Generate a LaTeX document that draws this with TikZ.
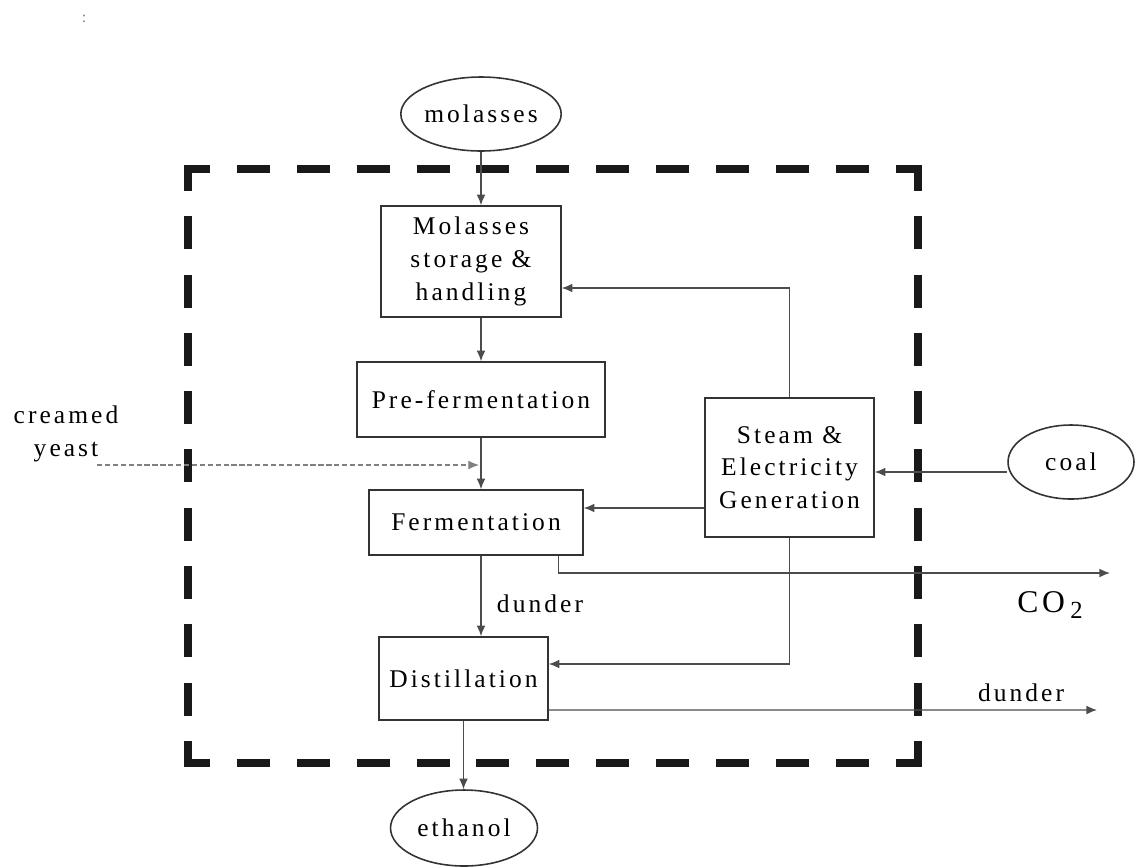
\documentclass[tikz,border=0pt]{standalone}
\usepackage{fontspec}
\setmainfont{Liberation Serif}[LetterSpace=12]
\usetikzlibrary{shapes.geometric,arrows.meta}
\newcommand\fsz{\fontsize{14.5}{18.7}\selectfont}
\begin{document}
\begin{tikzpicture}[x=0.02cm,y=-0.02cm,
  box/.style={draw=black!80,line width=0.9pt,rectangle,align=center,inner sep=0pt,font=\fsz},
  oval/.style={draw=black!80,line width=0.9pt,ellipse,inner sep=0pt,font=\fsz},
  conn/.style={draw=black!70,line width=0.8pt},
  arr/.style={conn,-{Latex[length=6pt,width=5pt]}},
  lbl/.style={font=\fsz,inner sep=0pt},
  bound/.style={line width=4.5pt,black!90,dash phase=0.14cm}]
\useasboundingbox (0,0) rectangle (1138,866);

% system boundary (L-shaped corners)
\coordinate (tl) at (188,169);
\coordinate (tr) at (918,169);
\coordinate (bl) at (188,763);
\coordinate (br) at (918,763);
\draw[bound,dash pattern=on 0.66cm off 0.538cm] ([xshift=-0.08cm]tl) -- ([xshift=0.08cm]tr);
\draw[bound,dash pattern=on 0.66cm off 0.538cm] ([xshift=-0.08cm]bl) -- ([xshift=0.08cm]br);
\draw[bound,dash pattern=on 0.66cm off 0.506cm] ([yshift=0.08cm]tl) -- ([yshift=-0.08cm]bl);
\draw[bound,dash pattern=on 0.66cm off 0.506cm] ([yshift=0.08cm]tr) -- ([yshift=-0.08cm]br);

% nodes
\node[oval,minimum width=3.16cm,minimum height=1.48cm] (molasses) at (481,114) {molasses};
\node[box,minimum width=3.6cm,minimum height=2.22cm] (storage) at (471,261.5) {Molasses\\storage \&\\handling};
\node[box,minimum width=4.96cm,minimum height=1.5cm] (pre) at (481,399.5) {Pre-fermentation};
\node[box,minimum width=4.28cm,minimum height=1.3cm] (ferm) at (476,522.5) {Fermentation};
\node[box,minimum width=3.38cm,minimum height=1.66cm] (dist) at (463.5,678.5) {Distillation};
\node[box,minimum width=3.38cm,minimum height=2.78cm] (steam) at (789.5,467.5) {Steam \&\\Electricity\\Generation};
\node[oval,minimum width=2.94cm,minimum height=1.52cm] (ethanol) at (464,828) {ethanol};
\node[oval,minimum width=2.52cm,minimum height=1.48cm] (coal) at (1071,462) {coal};

% labels
\node[lbl,align=center] (yeast) at (66,434) {creamed\\yeast};
\node[lbl] (dunder1) at (540,604) {dunder};
\node[lbl] (dunder2) at (1021,693) {dunder};
\node[lbl,font=\fontsize{18}{20}\selectfont] (co2) at (1050,605) {CO\,\raisebox{-0.45ex}{\fontsize{14}{14}\selectfont 2}};
\node[inner sep=0pt,font=\fontsize{9}{9}\selectfont,text=black!50] (colon) at (84,19) {:};

% free ends
\coordinate (yst) at (97,465);
\coordinate (yend) at (479,465);
\coordinate (co2end) at (1110,573);
\coordinate (dunend) at (1097,710);

% connectors
\draw[arr] (molasses.south) -- (molasses.south |- storage.north);
\draw[arr] (pre.north |- storage.south) -- (pre.north);
\draw[arr] (pre.south) -- (pre.south |- ferm.north);
\draw[arr,draw=black!50,line width=0.6pt,dash pattern=on 3pt off 1.5pt] (yst) -- (yend);
\draw[arr] (pre.south |- ferm.south) -- (pre.south |- dist.north);
\draw[arr] ([xshift=-0.5cm]ferm.south east) |- (co2end);
\draw[arr] (steam.north) |- ([yshift=-0.53cm]storage.east);
\draw[arr] ([yshift=-0.81cm]steam.west) -- ([yshift=-0.81cm]steam.west -| ferm.east);
\draw[arr] (steam.south) |- ([yshift=0.29cm]dist.east);
\draw[arr] ([yshift=-0.2cm]coal.west) -- ([yshift=-0.2cm]coal.west -| steam.east);
\draw[arr] ([yshift=-0.63cm]dist.east) -- (dunend);
\draw[arr] (dist.south) -- (dist.south |- ethanol.north);
\end{tikzpicture}
\end{document}
